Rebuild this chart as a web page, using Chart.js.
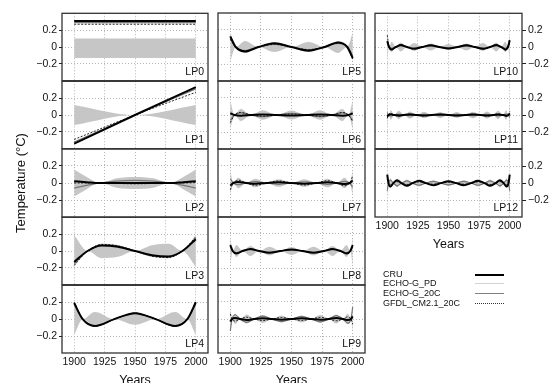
<!DOCTYPE html>
<html>
<head>
<meta charset="utf-8">
<script src="https://cdn.jsdelivr.net/npm/chart.js@4.4.1/dist/chart.umd.min.js"></script>
<style>
  html, body { margin: 0; padding: 0; background: #fff; overflow: hidden; width: 552px; height: 383px; }
  #wrap { position: relative; width: 552px; height: 383px; overflow: hidden; }
  #wrap canvas { position: absolute; }
  .legend { position: absolute; left: 383px; top: 269.5px; font: 9px "Liberation Sans", Arial, sans-serif; color: #111; }
  .legend .row { position: relative; height: 9.7px; line-height: 9.7px; white-space: nowrap; }
  .legend .swatch { position: absolute; left: 92px; width: 29px; height: 0; }
</style>
</head>
<body>
<div id="wrap"></div>
<script>
// tick labels
const xTicks = [1900, 1925, 1950, 1975, 2000];
const yTicks = [-0.2, 0, 0.2];
const seriesNames = ['CRU', 'ECHO-G_PD', 'ECHO-G_20C', 'GFDL_CM2.1_20C'];

// LP0 .. LP12 : sample years, ECHO-G_PD spread (half width), CRU, ECHO-G_20C, GFDL
const lp0Years = [1900, 2000];
const lp0Band = [0.10, 0.10];
const lp0BandLo = [-0.13, -0.13];
const lp0Cru = [0.31, 0.31];
const lp0Echo = [0.29, 0.29];
const lp0Gfdl = [0.27, 0.27];

const lp1Years = [1900, 1950, 2000];
const lp1Band = [0.12, 0, 0.12];
const lp1Cru = [-0.34, 0.0, 0.33];
const lp1Echo = [-0.32, 0.0, 0.31];
const lp1Gfdl = [-0.29, 0.0, 0.27];

const lp2Years = [1900, 1910, 1921, 1935, 1950, 1965, 1979, 1990, 2000];
const lp2Band = [0.16, 0.075, 0, 0.055, 0.07, 0.055, 0, 0.075, 0.16];
const lp2Cru = [0.02, 0.01, 0.0, 0.0, 0.0, 0.0, 0.0, 0.01, 0.02];
const lp2Echo = [-0.06, -0.028, 0, 0.022, 0.03, 0.022, 0, -0.028, -0.06];
const lp2Gfdl = [0.0, 0.0, 0.0, -0.005, -0.01, -0.005, 0.0, 0.0, 0.005];

const lp3Years = [1900, 1911, 1922.5, 1936, 1950, 1964, 1977.5, 1989, 2000];
const lp3Band = [0.19, 0, 0.085, 0.069, 0, 0.069, 0.085, 0, 0.19];
const lp3Cru = [-0.13, 0.0, 0.065, 0.05, 0.0, -0.05, -0.065, 0.0, 0.14];
const lp3Echo = [-0.15, 0.0, 0.067, 0.055, 0.0, -0.055, -0.067, 0.0, 0.15];
const lp3Gfdl = [-0.17, 0.0, 0.078, 0.062, 0.0, -0.062, -0.078, 0.0, 0.17];

const lp4Years = [1900, 1907, 1917, 1933, 1950, 1967, 1983, 1993, 2000];
const lp4Band = [0.19, 0, 0.085, 0, 0.065, 0, 0.085, 0, 0.19];
const lp4Cru = [0.19, 0.0, -0.081, 0.0, 0.071, 0.0, -0.081, 0.0, 0.2];
const lp4Echo = [0.18, 0.0, -0.077, 0.0, 0.068, 0.0, -0.077, 0.0, 0.18];
const lp4Gfdl = [0.2, 0.0, -0.085, 0.0, 0.075, 0.0, -0.085, 0.0, 0.21];

const lp5Years = [1900, 1904.5, 1912, 1923, 1936, 1950, 1964, 1977, 1988, 1995.5, 2000];
const lp5Band = [0.17, 0, 0.071, 0, 0.059, 0, 0.059, 0, 0.071, 0, 0.17];
const lp5Cru = [0.125, 0, -0.052, 0, 0.043, 0, -0.043, 0, 0.052, 0, -0.13];
const lp5Echo = [0.1, 0, -0.042, 0, 0.035, 0, -0.035, 0, 0.042, 0, -0.1];
const lp5Gfdl = [0.09, 0, -0.045, 0, 0.03, 0, -0.03, 0, 0.045, 0, -0.14];

const lp6Years = [1900, 1903.5, 1908.5, 1917, 1926.5, 1938, 1950, 1962, 1973.5, 1983, 1991.5, 1996.5, 2000];
const lp6Band = [0.17, 0, 0.07, 0, 0.056, 0, 0.053, 0, 0.056, 0, 0.07, 0, 0.17];
const lp6Cru = [0.02, 0, -0.008, 0, 0.007, 0, -0.006, 0, 0.007, 0, -0.008, 0, 0.02];
const lp6Echo = [-0.06, 0, 0.025, 0, -0.02, 0, 0.019, 0, -0.02, 0, 0.025, 0, -0.06];
const lp6Gfdl = [-0.09, 0, 0.03, 0, -0.015, 0, 0.01, 0, -0.015, 0, 0.03, 0, -0.08];

const lp7Years = [1900, 1902.5, 1906.5, 1913, 1920.5, 1929.5, 1939.5, 1950, 1960.5, 1970.5, 1979.5, 1987, 1993.5, 1997.5, 2000];
const lp7Band = [0.15, 0, 0.062, 0, 0.051, 0, 0.045, 0, 0.045, 0, 0.051, 0, 0.062, 0, 0.15];
const lp7Cru = [-0.03, 0, 0.012, 0, -0.01, 0, 0.009, 0, -0.009, 0, 0.01, 0, -0.012, 0, 0.03];
const lp7Echo = [0.05, 0, -0.02, 0, 0.017, 0, -0.015, 0, 0.015, 0, -0.017, 0, 0.02, 0, -0.05];
const lp7Gfdl = [-0.08, 0, 0.033, 0, -0.027, 0, 0.024, 0, -0.024, 0, 0.027, 0, -0.033, 0, 0.08];

const lp8Years = [1900, 1902, 1905, 1910, 1916.5, 1923.5, 1932, 1941, 1950, 1959, 1968, 1976.5, 1983.5, 1990, 1995, 1998, 2000];
const lp8Band = [0.17, 0, 0.07, 0, 0.058, 0, 0.051, 0, 0.046, 0, 0.051, 0, 0.058, 0, 0.07, 0, 0.17];
const lp8Cru = [0.07, 0, -0.029, 0, 0.024, 0, -0.021, 0, 0.019, 0, -0.021, 0, 0.024, 0, -0.029, 0, 0.07];
const lp8Echo = [0.05, 0, -0.02, 0, 0.017, 0, -0.015, 0, 0.014, 0, -0.015, 0, 0.017, 0, -0.02, 0, 0.05];
const lp8Gfdl = [0.06, 0, -0.025, 0, 0.02, 0, -0.018, 0, 0.016, 0, -0.018, 0, 0.02, 0, -0.025, 0, 0.06];

const lp9Years = [1900, 1901.5, 1904, 1908, 1913.5, 1919.5, 1926.5, 1934, 1941.75, 1950, 1958.25, 1966, 1973.5, 1980.5, 1986.5, 1992, 1996, 1998.5, 2000];
const lp9Band = [0.15, 0, 0.062, 0, 0.053, 0, 0.047, 0, 0.042, 0, 0.042, 0, 0.047, 0, 0.053, 0, 0.062, 0, 0.15];
const lp9Cru = [-0.03, 0, 0.012, 0, -0.011, 0, 0.009, 0, -0.008, 0, 0.008, 0, -0.009, 0, 0.011, 0, -0.012, 0, 0.03];
const lp9Echo = [-0.14, 0, 0.05, 0, -0.04, 0, 0.034, 0, -0.03, 0, 0.03, 0, -0.034, 0, 0.04, 0, -0.05, 0, 0.14];
const lp9Gfdl = [0.06, 0, -0.025, 0, 0.021, 0, -0.019, 0, 0.017, 0, -0.017, 0, 0.019, 0, -0.021, 0, 0.025, 0, -0.06];

const lp10Years = [1900, 1901.5, 1903.5, 1907, 1911, 1916, 1922, 1928.5, 1935.5, 1942.5, 1950, 1957.5, 1964.5, 1971.5, 1978, 1984, 1989, 1993, 1996.5, 1998.5, 2000];
const lp10Band = [0.15, 0, 0.062, 0, 0.053, 0, 0.047, 0, 0.042, 0, 0.037, 0, 0.042, 0, 0.047, 0, 0.053, 0, 0.062, 0, 0.15];
const lp10Cru = [0.07, 0, -0.029, 0, 0.025, 0, -0.022, 0, 0.02, 0, -0.018, 0, 0.02, 0, -0.022, 0, 0.025, 0, -0.029, 0, 0.08];
const lp10Echo = [0.04, 0, -0.016, 0, 0.014, 0, -0.012, 0, 0.011, 0, -0.01, 0, 0.011, 0, -0.012, 0, 0.014, 0, -0.016, 0, 0.04];
const lp10Gfdl = [0.14, 0, -0.04, 0, 0.03, 0, -0.025, 0, 0.022, 0, -0.02, 0, 0.022, 0, -0.025, 0, 0.03, 0, -0.04, 0, 0.1];

const lp11Years = [1900, 1901, 1903, 1905.5, 1909.5, 1913.5, 1918.5, 1924, 1930, 1936.5, 1943.25, 1950, 1956.75, 1963.5, 1970, 1976, 1981.5, 1986.5, 1990.5, 1994.5, 1997, 1999, 2000];
const lp11Band = [0.14, 0, 0.057, 0, 0.049, 0, 0.043, 0, 0.039, 0, 0.036, 0, 0.036, 0, 0.039, 0, 0.043, 0, 0.049, 0, 0.057, 0, 0.14];
const lp11Cru = [-0.02, 0, 0.008, 0, -0.007, 0, 0.006, 0, -0.006, 0, 0.005, 0, -0.005, 0, 0.006, 0, -0.006, 0, 0.007, 0, -0.008, 0, 0.02];
const lp11Echo = [0.03, 0, -0.012, 0, 0.011, 0, -0.009, 0, 0.008, 0, -0.008, 0, 0.008, 0, -0.008, 0, 0.009, 0, -0.011, 0, 0.012, 0, -0.03];
const lp11Gfdl = [-0.04, 0, 0.016, 0, -0.014, 0, 0.012, 0, -0.011, 0, 0.01, 0, -0.01, 0, 0.011, 0, -0.012, 0, 0.014, 0, -0.016, 0, 0.04];

const lp12Years = [1900, 1901, 1902.5, 1905, 1908, 1911.5, 1916, 1920.5, 1926, 1931.5, 1937.5, 1943.75, 1950, 1956.25, 1962.5, 1968.5, 1974, 1979.5, 1984, 1988.5, 1992, 1995, 1997.5, 1999, 2000];
const lp12Band = [0.14, 0, 0.057, 0, 0.049, 0, 0.043, 0, 0.039, 0, 0.035, 0, 0.032, 0, 0.035, 0, 0.039, 0, 0.043, 0, 0.049, 0, 0.057, 0, 0.14];
const lp12Cru = [0.1, 0, -0.041, 0, 0.035, 0, -0.031, 0, 0.028, 0, -0.025, 0, 0.023, 0, -0.025, 0, 0.028, 0, -0.031, 0, 0.035, 0, -0.041, 0, 0.1];
const lp12Echo = [-0.09, 0, 0.037, 0, -0.032, 0, 0.028, 0, -0.025, 0, 0.022, 0, -0.021, 0, 0.022, 0, -0.025, 0, 0.028, 0, -0.032, 0, 0.037, 0, -0.09];
const lp12Gfdl = [0.05, 0, -0.02, 0, 0.018, 0, -0.016, 0, 0.014, 0, -0.012, 0, 0.011, 0, -0.012, 0, 0.014, 0, -0.016, 0, 0.018, 0, -0.02, 0, 0.05];

const panels = [
  { label: 'LP0', col: 0, row: 0, years: lp0Years, band: lp0Band, bandLo: lp0BandLo, cru: lp0Cru, echo: lp0Echo, gfdl: lp0Gfdl },
  { label: 'LP1', col: 0, row: 1, years: lp1Years, band: lp1Band, cru: lp1Cru, echo: lp1Echo, gfdl: lp1Gfdl },
  { label: 'LP2', col: 0, row: 2, years: lp2Years, band: lp2Band, cru: lp2Cru, echo: lp2Echo, gfdl: lp2Gfdl },
  { label: 'LP3', col: 0, row: 3, years: lp3Years, band: lp3Band, cru: lp3Cru, echo: lp3Echo, gfdl: lp3Gfdl },
  { label: 'LP4', col: 0, row: 4, years: lp4Years, band: lp4Band, cru: lp4Cru, echo: lp4Echo, gfdl: lp4Gfdl },
  { label: 'LP5', col: 1, row: 0, years: lp5Years, band: lp5Band, cru: lp5Cru, echo: lp5Echo, gfdl: lp5Gfdl },
  { label: 'LP6', col: 1, row: 1, years: lp6Years, band: lp6Band, cru: lp6Cru, echo: lp6Echo, gfdl: lp6Gfdl },
  { label: 'LP7', col: 1, row: 2, years: lp7Years, band: lp7Band, cru: lp7Cru, echo: lp7Echo, gfdl: lp7Gfdl },
  { label: 'LP8', col: 1, row: 3, years: lp8Years, band: lp8Band, cru: lp8Cru, echo: lp8Echo, gfdl: lp8Gfdl },
  { label: 'LP9', col: 1, row: 4, years: lp9Years, band: lp9Band, cru: lp9Cru, echo: lp9Echo, gfdl: lp9Gfdl },
  { label: 'LP10', col: 2, row: 0, years: lp10Years, band: lp10Band, cru: lp10Cru, echo: lp10Echo, gfdl: lp10Gfdl },
  { label: 'LP11', col: 2, row: 1, years: lp11Years, band: lp11Band, cru: lp11Cru, echo: lp11Echo, gfdl: lp11Gfdl },
  { label: 'LP12', col: 2, row: 2, years: lp12Years, band: lp12Band, cru: lp12Cru, echo: lp12Echo, gfdl: lp12Gfdl }
];

// layout of the three columns (plot area edges, canvas left edge)
const COLS = [
  { left: 62, right: 208, canvasLeft: 0 },
  { left: 218, right: 365, canvasLeft: 214 },
  { left: 375, right: 522, canvasLeft: 371 }
];
const TOP = 13, ROW_H = 68, PAD = 4;
const LAST_ROW = [4, 4, 2];
const FONT = '"Liberation Sans", Arial, sans-serif';
const GRID = '#b4b4b4';
const BAND = 'rgb(198,198,198)';

Chart.defaults.font.family = FONT;
Chart.defaults.color = '#111';

const panelFrame = {
  id: 'panelFrame',
  afterDatasetsDraw(chart, args, opts) {
    const { ctx, chartArea: a } = chart;
    ctx.save();
    ctx.strokeStyle = '#333';
    ctx.lineWidth = 1.3;
    ctx.strokeRect(a.left, a.top, a.right - a.left, a.bottom - a.top);
    ctx.font = '10.5px ' + FONT;
    ctx.fillStyle = '#111';
    ctx.textAlign = 'right';
    ctx.textBaseline = 'alphabetic';
    ctx.fillText(opts.label, a.right - 4, a.bottom - 6);
    ctx.restore();
  }
};

const wrap = document.getElementById('wrap');

function panelConfig(p, g) {
  const pts = vals => p.years.map((x, i) => ({ x: x, y: vals[i] }));
  const lo = p.bandLo || p.band.map(v => -v);
  return {
    type: 'line',
    data: {
      datasets: [
        { label: 'ECHO-G_PD', data: pts(p.band), borderWidth: 0, borderColor: 'rgba(0,0,0,0)', backgroundColor: BAND, fill: '+1', order: 5 },
        { label: 'ECHO-G_PD (low)', data: pts(lo), borderWidth: 0, borderColor: 'rgba(0,0,0,0)', fill: false, order: 4 },
        { label: 'ECHO-G_20C', data: pts(p.echo), borderColor: '#777', borderWidth: 1.2, fill: false, order: 3 },
        { label: 'GFDL_CM2.1_20C', data: pts(p.gfdl), borderColor: '#111', borderWidth: 0.9, borderDash: [2, 1.5], fill: false, order: 2 },
        { label: 'CRU', data: pts(p.cru), borderColor: '#000', borderWidth: 2, fill: false, order: 1 }
      ]
    },
    options: {
      responsive: false,
      maintainAspectRatio: false,
      animation: false,
      devicePixelRatio: 1,
      layout: { padding: { left: g.padLeft, right: g.padRight, top: g.padTop, bottom: 0 } },
      elements: {
        point: { radius: 0 },
        line: { cubicInterpolationMode: 'monotone' }
      },
      plugins: {
        legend: { display: false },
        tooltip: { enabled: false },
        panelFrame: { label: p.label }
      },
      scales: {
        x: {
          type: 'linear',
          min: 1890,
          max: 2010,
          afterBuildTicks: s => { s.ticks = xTicks.map(v => ({ value: v })); },
          afterFit: s => { s.height = g.xAxisH; },
          ticks: { display: g.isBottom, font: { size: 10.5 }, color: '#111', padding: 3, maxRotation: 0, autoSkip: false, callback: v => String(v) },
          grid: { color: GRID, lineWidth: 1, drawTicks: false },
          border: { display: false, dash: [1, 2] },
          title: { display: g.isBottom, text: 'Years', font: { size: 12.5 }, color: '#111', padding: { top: 0, bottom: g.titlePad } }
        },
        y: {
          min: -0.4,
          max: 0.4,
          position: p.col === 2 ? 'right' : 'left',
          afterBuildTicks: s => { s.ticks = yTicks.map(v => ({ value: v })); },
          afterFit: s => { s.width = g.yAxisW; },
          ticks: {
            display: p.col !== 1,
            font: { size: 10.5 },
            color: '#111',
            padding: 2,
            callback: v => v === 0 ? '0' : (v < 0 ? '\u2212' : '') + Math.abs(v).toFixed(1)
          },
          grid: { color: GRID, lineWidth: 1, drawTicks: p.col !== 1, tickLength: p.col === 2 ? 4 : 3, tickColor: '#222', tickWidth: 1, tickBorderDash: [] },
          border: { display: false, dash: [1, 2] },
          title: { display: p.label === 'LP2', text: 'Temperature (°C)', font: { size: 13 }, color: '#111', padding: { top: 14, bottom: 0 } }
        }
      }
    },
    plugins: [panelFrame]
  };
}

function build(p, g, w, h) {
  const canvas = document.createElement('canvas');
  canvas.width = w; canvas.height = h;
  canvas.style.width = w + 'px';
  canvas.style.height = h + 'px';
  wrap.appendChild(canvas);
  const chart = new Chart(canvas, panelConfig(p, g));
  return { canvas, chart };
}

panels.forEach(p => {
  const c = COLS[p.col];
  const top = TOP + p.row * ROW_H;
  const isBottom = p.row === LAST_ROW[p.col];
  const tall = p.label === 'LP2'; // room for the long vertical axis title
  const g = {
    isBottom: isBottom,
    padTop: tall ? 30 : PAD,
    xAxisH: isBottom ? (p.col === 2 ? 41 : 39) : (tall ? 30 : PAD),
    titlePad: p.col === 2 ? 5.6 : 3.6
  };
  if (p.col === 0) { g.yAxisW = c.left - c.canvasLeft; g.padLeft = 0; g.padRight = PAD; }
  else if (p.col === 1) { g.yAxisW = 0; g.padLeft = c.left - c.canvasLeft; g.padRight = PAD; }
  else { g.yAxisW = 552 - c.right; g.padLeft = c.left - c.canvasLeft; g.padRight = 0; }

  const plotW = c.right - c.left;
  let w = plotW + g.padLeft + g.padRight + g.yAxisW;
  let h = ROW_H + g.padTop + g.xAxisH;
  let built = build(p, g, w, h);
  // correct the canvas so the plot area has exactly the wanted size
  let a = built.chart.chartArea;
  const dw = plotW - (a.right - a.left), dh = ROW_H - (a.bottom - a.top);
  if (Math.abs(dw) > 0.01 || Math.abs(dh) > 0.01) {
    built.chart.destroy();
    built.canvas.remove();
    w += dw; h += dh;
    built = build(p, g, w, h);
    a = built.chart.chartArea;
  }
  built.canvas.style.left = (c.left - a.left) + 'px';
  built.canvas.style.top = (top - a.top) + 'px';
});

// legend (text on the left, line sample on the right)
const legendStyle = {
  'CRU': '2px solid #000',
  'ECHO-G_PD': '1.5px solid #d2d2d2',
  'ECHO-G_20C': '1.5px solid #808080',
  'GFDL_CM2.1_20C': '1px dotted #333'
};
const legend = document.createElement('div');
legend.className = 'legend';
seriesNames.forEach(name => {
  const row = document.createElement('div');
  row.className = 'row';
  row.textContent = name;
  const sw = document.createElement('div');
  sw.className = 'swatch';
  sw.style.borderTop = legendStyle[name];
  sw.style.top = '4px';
  row.appendChild(sw);
  legend.appendChild(row);
});
wrap.appendChild(legend);
</script>
</body>
</html>
